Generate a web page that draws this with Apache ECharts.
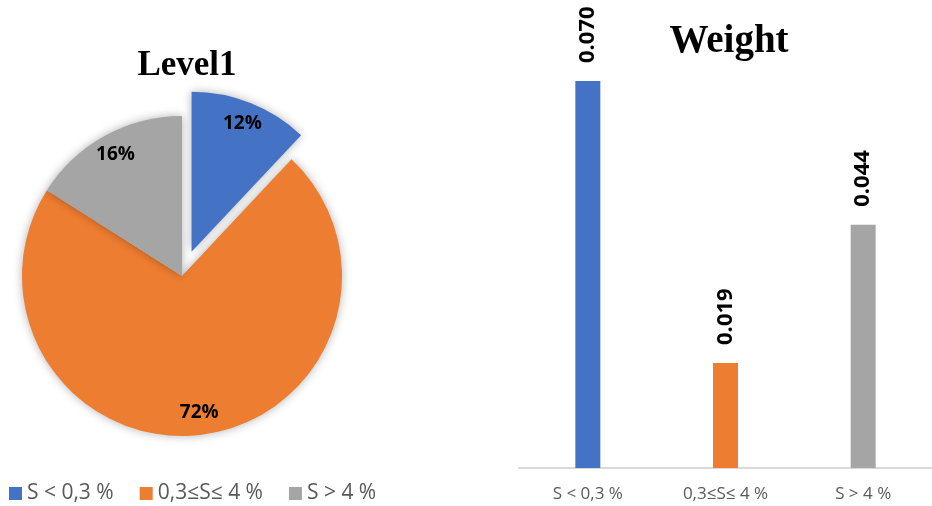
<!DOCTYPE html>
<html>
<head>
<meta charset="utf-8">
<script src="https://cdn.jsdelivr.net/npm/echarts@6/dist/echarts.min.js"></script>
<style>
  html, body { margin: 0; padding: 0; background: #fff; }
  #main { width: 932px; height: 506px; }
</style>
</head>
<body>
<div id="main"></div>
<script>
// categories + values
var categories = ['S < 0,3 %', '0,3≤S≤ 4 %', 'S > 4 %'];
var levelShare = [12, 72, 16];
var weights = [0.070, 0.019, 0.044];
var colors = ['#4472C4', '#ED7D31', '#A5A5A5'];

var sans = '"Open Sans", "Liberation Sans", sans-serif';

var pieData = categories.map(function (c, i) {
  return { name: c, value: levelShare[i], selected: i === 0, itemStyle: { color: colors[i] } };
});
// transparent ring only carries the labels (so they sit near the rim like excel)
var labelData = categories.map(function (c, i) {
  return { name: c, value: levelShare[i], selected: i === 0, itemStyle: { color: 'rgba(0,0,0,0)' } };
});

var myChart = echarts.init(document.getElementById('main'));
myChart.setOption({
  animation: false,
  title: [
    {
      text: 'Level1', left: 182, top: 43, textAlign: 'center',
      textStyle: { fontFamily: '"Liberation Serif", serif', fontWeight: 'bold', fontSize: 35, color: '#000' }
    },
    {
      text: 'Weight', left: 724, top: 17, textAlign: 'center',
      textStyle: { fontFamily: '"Liberation Serif", serif', fontWeight: 'bold', fontSize: 39, color: '#000' }
    }
  ],
  legend: {
    data: categories.map(function (c, i) { return { name: c, itemStyle: { color: colors[i] } }; }),
    left: 4, top: 478,
    icon: 'rect', itemWidth: 13, itemHeight: 13, itemGap: 26,
    selectedMode: false,
    textStyle: { fontFamily: sans, fontSize: 21, color: '#595959' }
  },
  grid: { left: 519, right: 0, top: 81, bottom: 38 },
  xAxis: {
    type: 'category',
    data: categories,
    axisLine: { lineStyle: { color: '#d9d9d9', width: 2 } },
    axisTick: { show: false },
    axisLabel: { fontFamily: sans, fontSize: 17, color: '#595959', margin: 18 }
  },
  yAxis: { type: 'value', min: 0, max: 0.070, show: false, splitLine: { show: false } },
  series: [
    {
      type: 'pie',
      center: [182, 276],
      radius: [0, 160],
      startAngle: 90,
      selectedMode: 'single',
      selectedOffset: 26,
      silent: true,
      label: { show: false },
      labelLine: { show: false },
      itemStyle: { shadowBlur: 10, shadowColor: 'rgba(0,0,0,0.3)' },
      data: pieData
    },
    {
      type: 'pie',
      center: [182, 276],
      radius: [110, 160],
      startAngle: 90,
      selectedMode: 'single',
      selectedOffset: 26,
      silent: true,
      z: 5,
      label: {
        show: true, position: 'inside', formatter: '{c}%',
        fontFamily: sans, fontWeight: 'bold', fontSize: 19, color: '#000'
      },
      labelLine: { show: false },
      data: labelData
    },
    {
      type: 'bar',
      name: 'Weight',
      barWidth: 25,
      data: weights.map(function (v, i) { return { value: v, itemStyle: { color: colors[i] } }; }),
      label: {
        show: true, position: 'top', rotate: 90, distance: 18,
        align: 'left', verticalAlign: 'middle',
        formatter: function (p) { return p.value.toFixed(3); },
        fontFamily: sans, fontWeight: 'bold', fontSize: 22, color: '#000'
      }
    }
  ]
});
</script>
</body>
</html>
